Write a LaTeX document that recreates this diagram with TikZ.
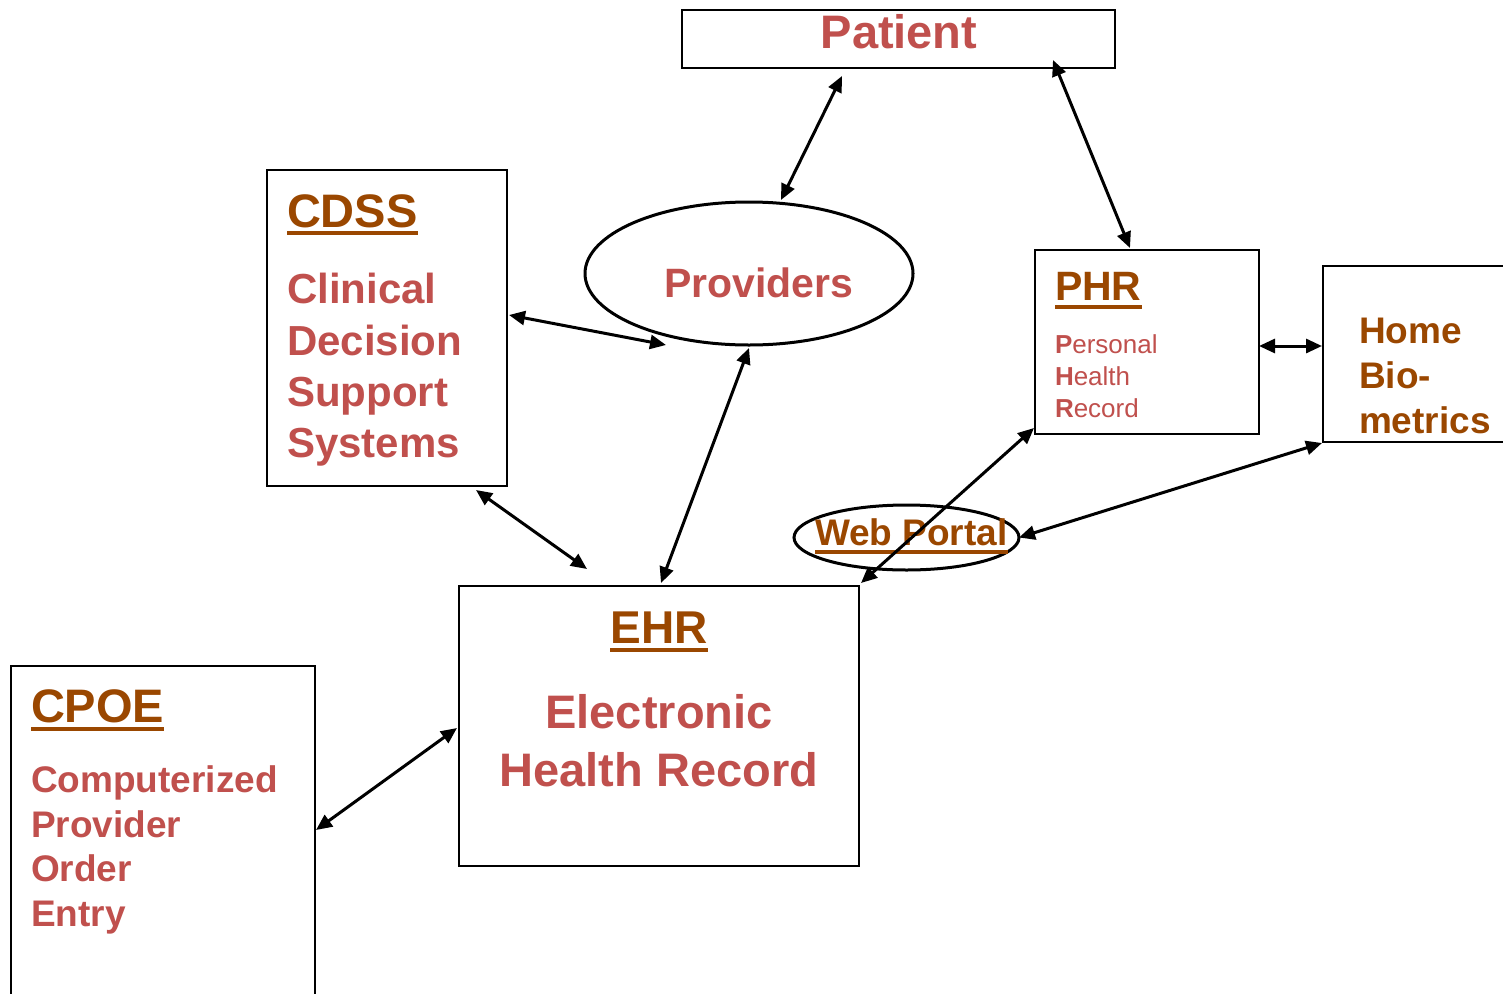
\documentclass[tikz,border=0pt]{standalone}
\usepackage{fontspec}
\setmainfont{Liberation Sans}
\usetikzlibrary{arrows.meta,calc,shapes.geometric}
\definecolor{rd}{HTML}{C0504D}
\definecolor{brn}{HTML}{9A4700}
\begin{document}
\begin{tikzpicture}[x=1pt,y=-1pt,
  box/.style={draw=black,line width=2.8pt,inner sep=0pt,outer sep=0pt,anchor=north west,fill=none},
  oval/.style={draw=black,line width=3pt,ellipse,inner sep=0pt,outer sep=0pt},
  txt/.style={inner sep=0pt,outer sep=0pt,anchor=base west},
  ttl/.style={txt,text=brn,font=\bfseries\fontsize{#1}{#1}\selectfont},
  bdy/.style={txt,text=rd,font=\bfseries\fontsize{#1}{#1}\selectfont},
  uline/.style={draw=brn,line width=4.5pt},
  conn/.style={line width=3pt,{Triangle[length=16pt,width=14pt]}-{Triangle[length=16pt,width=14pt]}}]
\clip (0,0) rectangle (1503,993);
\fill[white] (0,0) rectangle (1503,993);
% boxes
\node[box,minimum width=433pt,minimum height=58pt] (pat) at (682,10) {};
\node[box,minimum width=240pt,minimum height=316pt] (cdss) at (267,170) {};
\node[box,minimum width=224pt,minimum height=184pt] (phr) at (1035,250) {};
\node[box,minimum width=220pt,minimum height=176pt] (home) at (1323,266) {};
\node[box,minimum width=400pt,minimum height=280pt] (ehr) at (459,586) {};
\node[box,minimum width=304pt,minimum height=360pt] (cpoe) at (11,666) {};
\node[oval,minimum width=328pt,minimum height=143pt] (prov) at (749,273.5) {};
\node[oval,minimum width=225pt,minimum height=65pt] (web) at (906.5,537.5) {};
% texts
\node[bdy=47,anchor=base] (patt) at (899,48) {Patient};
\node[bdy=41] (provt) at (664,297) {Providers};
\node[ttl=47] (cdsst) at (287,227) {CDSS};
\node[bdy=42] (cdss1) at (287,303) {Clinical};
\node[bdy=42] (cdss2) at (287,355) {Decision};
\node[bdy=42] (cdss3) at (287,406) {Support};
\node[bdy=42] (cdss4) at (287,457) {Systems};
\node[ttl=41] (phrt) at (1055,300) {PHR};
\node[txt,text=rd,font=\fontsize{26}{26}\selectfont] (phr1) at (1055,353) {\textbf{P}ersonal};
\node[txt,text=rd,font=\fontsize{26}{26}\selectfont] (phr2) at (1055,385) {\textbf{H}ealth};
\node[txt,text=rd,font=\fontsize{26}{26}\selectfont] (phr3) at (1055,417) {\textbf{R}ecord};
\node[ttl=37] (home1) at (1359,343) {Home};
\node[ttl=37] (home2) at (1359,388) {Bio-};
\node[ttl=37] (home3) at (1359,433) {metrics};
\node[ttl=37] (webt) at (815,545) {Web Portal};
\node[ttl=46,anchor=base] (ehrt) at (659,643) {EHR};
\node[bdy=47,anchor=base] (ehr1) at (659,728) {Electronic};
\node[bdy=47,anchor=base] (ehr2) at (659,786) {Health Record};
\node[ttl=47] (cpoet) at (31,722) {CPOE};
\node[bdy=37] (cpoe1) at (31,792) {Computerized};
\node[bdy=37] (cpoe2) at (31,837) {Provider};
\node[bdy=37] (cpoe3) at (31,881) {Order};
\node[bdy=37] (cpoe4) at (31,926) {Entry};
% underlines
\foreach \n/\d in {cdsst/6,phrt/7,webt/7,ehrt/7,cpoet/7}{
  \draw[uline] ($(\n.base west)+(0,\d)$) -- ($(\n.base east)+(0,\d)$);
}
% connectors
\draw[conn] ($(pat.south west)+(160,8)$) -- ($(prov.north)+(32,-2)$);
\draw[conn] ($(pat.south east)+(-62,-8)$) -- ($(phr.north west)+(95,-2)$);
\draw[conn] ($(cdss.north east)+(2,145)$) -- ($(prov.south)+(-83,0)$);
\draw[conn] ($(cdss.south east)+(-31,4)$) -- ($(ehr.north west)+(128,-17)$);
\draw[conn] ($(prov.south)+(0,3)$) -- ($(ehr.north west)+(202,-3)$);
\draw[conn] ($(phr.north east)+(0,96)$) -- ($(home.north west)+(-1,80)$);
\draw[conn] ($(home.south west)+(-1,1)$) -- (web.east);
\draw[conn] ($(phr.south west)+(-1,-6)$) -- ($(ehr.north east)+(2,-3)$);
\draw[conn] ($(cpoe.north east)+(1,164)$) -- ($(ehr.north west)+(-2,142)$);
\end{tikzpicture}
\end{document}
